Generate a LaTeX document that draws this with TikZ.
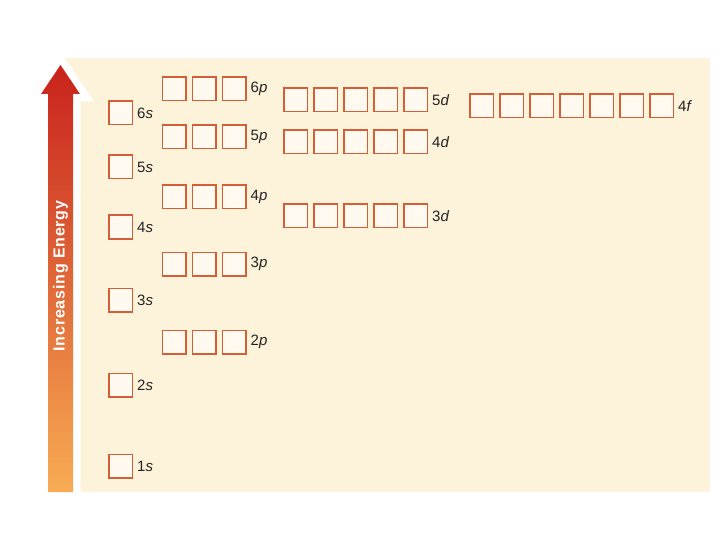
\documentclass[tikz,border=0pt]{standalone}
\usepackage{fontspec}
\setmainfont{Liberation Sans}
\usetikzlibrary{positioning}

\definecolor{bgcream}{RGB}{253,242,218}
\definecolor{boxfill}{RGB}{255,249,239}
\definecolor{boxline}{RGB}{212,94,54}
\definecolor{arrowtop}{RGB}{200,34,28}
\definecolor{arrowmid}{RGB}{226,100,46}
\definecolor{arrowbot}{RGB}{248,172,84}
\definecolor{labeltext}{RGB}{35,35,35}

\begin{document}
\begin{tikzpicture}[x=1pt,y=-1pt,
    orbital/.style={draw=boxline,fill=boxfill,line width=1.5pt,minimum size=23.5pt,inner sep=0pt},
    sublevel/.style={anchor=west,inner sep=1pt,text=labeltext,
      font=\fontsize{15}{17}\selectfont\addfontfeature{LetterSpace=6}},
    energy text/.style={rotate=90,text=white,
      font=\bfseries\fontsize{16}{18}\selectfont\addfontfeature{LetterSpace=5}}]

  \useasboundingbox (0,0) rectangle (720,540);
  \fill[bgcream] (62,58) rectangle (710,492);

  % energy arrow
  \coordinate (tail) at (60.5,492);
  \coordinate (tip) at (60.5,65);
  \draw[white,line width=15pt,line join=miter]
    (48,492) -- (48,94) -- (41,94) -- (tip) -- (80,94) -- (73,94) -- (73,492) -- cycle;
  \shade[top color=arrowtop,middle color=arrowmid,bottom color=arrowbot]
    (48,492) -- (48,94) -- (41,94) -- (tip) -- (80,94) -- (73,94) -- (73,492) -- cycle;
  \node[energy text] (energy) at (60.5,276) {Increasing Energy};

  % orbital boxes, one row per sublevel
  \foreach \lvl/\sub/\x/\y/\n in {1/s/120.5/466/1, 2/s/120.5/385/1, 3/s/120.5/300/1,
      4/s/120.5/227/1, 5/s/120.5/167/1, 6/s/120.5/113/1,
      2/p/174/342/3, 3/p/174/264/3, 4/p/174/197/3, 5/p/174/137/3, 6/p/174/89/3,
      3/d/295.5/216/5, 4/d/295.5/142/5, 5/d/295.5/100/5,
      4/f/481.5/106/7}
  {
    \foreach \k in {1,...,\n}
      \node[orbital] (orb\lvl\sub-\k) at (\x+30*\k-30,\y) {};
    \node[sublevel,right=3pt of orb\lvl\sub-\n] (label\lvl\sub) {\lvl\textit{\sub}};
  }

\end{tikzpicture}
\end{document}
